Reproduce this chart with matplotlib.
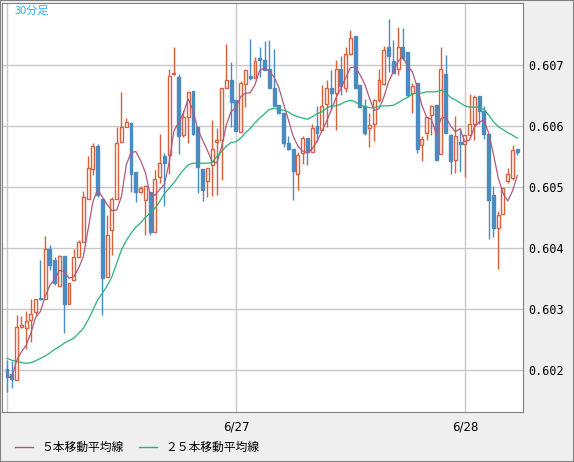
import matplotlib
matplotlib.use("Agg")
import matplotlib.pyplot as plt
import numpy as np
import pandas as pd

O = [60201,60193,60184,60271,60268,60282,60295,60317,60316,60398,60380,60338,60387,60308,60348,60386,60410,60481,60529,60567,
     60481,60352,60429,60481,60573,60599,60605,60525,60491,60479,60491,60427,60517,60551,60552,60685,60680,60585,60614,60658,
     60598,60529,60509,60536,60574,60577,60662,60676,60643,60590,60669,60682,60678,60711,60708,60693,60662,60634,60621,60572,
     60562,60522,60555,60580,60558,60600,60593,60636,60663,60654,60694,60663,60718,60748,60667,60632,60596,60603,60643,60669,
     60730,60707,60694,60729,60722,60654,60670,60569,60589,60618,60634,60554,60686,60585,60545,60574,60571,60585,60604,60649,
     60625,60587,60487,60432,60455,60509,60514,60562]
H = [60216,60215,60290,60289,60297,60316,60316,60380,60420,60405,60386,60389,60387,60342,60399,60413,60494,60551,60572,60571,
     60481,60454,60484,60599,60655,60613,60607,60525,60501,60503,60492,60528,60587,60555,60694,60730,60685,60626,60656,60658,
     60598,60529,60531,60610,60596,60663,60735,60705,60643,60673,60691,60742,60713,60730,60740,60741,60726,60634,60621,60583,
     60562,60558,60584,60580,60604,60632,60667,60675,60691,60708,60714,60729,60758,60748,60667,60645,60621,60645,60694,60731,
     60776,60741,60763,60760,60722,60671,60670,60584,60614,60634,60634,60729,60716,60587,60616,60596,60585,60653,60651,60649,
     60633,60587,60502,60461,60499,60531,60569,60563]
L = [60164,60171,60184,60268,60234,60246,60290,60315,60316,60364,60339,60337,60261,60308,60348,60386,60410,60481,60520,60484,
     60290,60352,60389,60481,60573,60599,60491,60476,60490,60421,60421,60427,60507,60468,60522,60684,60554,60582,60572,60585,
     60490,60477,60483,60485,60487,60511,60662,60599,60591,60590,60631,60675,60678,60680,60691,60662,60633,60621,60565,60560,
     60478,60495,60538,60536,60558,60573,60593,60599,60626,60593,60651,60655,60716,60660,60631,60585,60566,60576,60640,60667,
     60689,60687,60684,60708,60647,60621,60555,60543,60577,60585,60544,60554,60588,60521,60523,60525,60517,60585,60577,60604,
     60578,60414,60418,60365,60455,60507,60512,60552]
C = [60189,60186,60270,60274,60281,60292,60316,60316,60399,60372,60342,60387,60308,60342,60386,60410,60483,60531,60567,60487,
     60350,60421,60481,60572,60599,60607,60522,60491,60499,60501,60427,60513,60539,60540,60682,60686,60583,60615,60656,60587,
     60532,60495,60531,60563,60577,60663,60676,60640,60591,60671,60691,60679,60707,60708,60691,60662,60633,60622,60572,60562,
     60527,60552,60580,60558,60596,60589,60632,60662,60654,60694,60666,60718,60744,60663,60631,60589,60602,60643,60676,60725,
     60714,60687,60729,60711,60651,60666,60563,60578,60614,60633,60545,60693,60588,60543,60583,60571,60585,60603,60648,60625,
     60587,60478,60432,60454,60499,60522,60560,60558]
MA25 = [60219,60216,60214,60212,60211,60212,60215,60219,60223,60228,60234,60238,60244,60248,60252,60260,60268,60282,60298,60315,
        60326,60338,60353,60375,60397,60412,60424,60434,60441,60450,60457,60465,60476,60489,60498,60507,60518,60528,60536,60539,
        60539,60539,60539,60540,60550,60558,60567,60573,60574,60580,60589,60596,60605,60613,60620,60627,60629,60627,60626,60623,
        60618,60615,60613,60611,60615,60620,60623,60629,60633,60633,60636,60640,60642,60640,60634,60632,60630,60630,60632,60633,
        60633,60634,60638,60643,60647,60652,60654,60654,60656,60656,60656,60659,60654,60647,60643,60638,60633,60631,60631,60631,
        60627,60618,60607,60599,60594,60589,60585,60580]
date_ticks = [48, 96]
date_labels = ["6/27", "6/28"]
yticks = [0.602, 0.603, 0.604, 0.605, 0.606, 0.607]

n = min(len(O), len(H), len(L), len(C))
o = np.array(O[:n]) / 1e5; h = np.array(H[:n]) / 1e5
l = np.array(L[:n]) / 1e5; c = np.array(C[:n]) / 1e5
x = np.arange(n)
ma5 = pd.Series(c).rolling(5, min_periods=1).mean().values
ma25 = np.array(MA25[:n]) / 1e5

RED = "#d9603b"; BLUE = "#4a8bc2"
fig = plt.figure(figsize=(5.74, 4.62), dpi=100, facecolor="#efefef")
ax = fig.add_axes([2/574, 50/462, 521/574, 409/462])
ax.set_facecolor("white")
ax.set_xlim(-1.05, 108.2)
ax.set_ylim(0.601311, 0.608016)

for yv in yticks:
    ax.axhline(yv, color="#c8c8c8", lw=1, zorder=0)
for xv in [0] + date_ticks:
    ax.axvline(xv, color="#c8c8c8", lw=1, zorder=0)

w = 0.62
for i in range(n):
    up = c[i] >= o[i]
    col = RED if up else BLUE
    ax.vlines(x[i], l[i], h[i], color=col, lw=1, zorder=2)
    lo, hi = min(o[i], c[i]), max(o[i], c[i])
    if hi - lo < 0.000012:
        hi = lo + 0.000012
    if up:
        ax.bar(x[i], hi - lo, bottom=lo, width=w, facecolor="white", edgecolor=RED, lw=1, zorder=3)
    else:
        ax.bar(x[i], hi - lo, bottom=lo, width=w, facecolor=BLUE, edgecolor=BLUE, lw=1, zorder=3)

ax.plot(x, ma5, color="#b0587f", lw=0.9, zorder=4)
ax.plot(x, ma25, color="#2ab27a", lw=0.9, zorder=4)

ax.yaxis.tick_right()
ax.set_yticks(yticks)
ax.set_yticklabels([f"{v:.3f}" for v in yticks], fontsize=8.5, family="DejaVu Sans Mono")
ax.tick_params(axis="y", length=0, pad=4)
ax.set_xticks(date_ticks)
ax.set_xticklabels(date_labels, fontsize=8.5)
ax.tick_params(axis="x", length=0, pad=6)
for s in ax.spines.values():
    s.set_color("#808080")

fam = ["Noto Sans CJK JP", "DejaVu Sans"]
ax.text(0.025, 0.993, "30分足", transform=ax.transAxes, ha="left", va="top",
        color="#33aaff", fontsize=8, family=fam)
fig.lines.append(plt.Line2D([15/574, 33/574], [15/462, 15/462], color="#b0587f", lw=1, transform=fig.transFigure))
fig.text(41/574, 15/462, "５本移動平均線", fontsize=8.5, family=fam, va="center")
fig.lines.append(plt.Line2D([139/574, 157/574], [15/462, 15/462], color="#2ab27a", lw=1, transform=fig.transFigure))
fig.text(165/574, 15/462, "２５本移動平均線", fontsize=8.5, family=fam, va="center")
fig.patches.append(plt.Rectangle((0, 0), 1, 1, fill=False, edgecolor="#808080", lw=1.5, transform=fig.transFigure))
fig.savefig("out.png", dpi=100, facecolor=fig.get_facecolor())
